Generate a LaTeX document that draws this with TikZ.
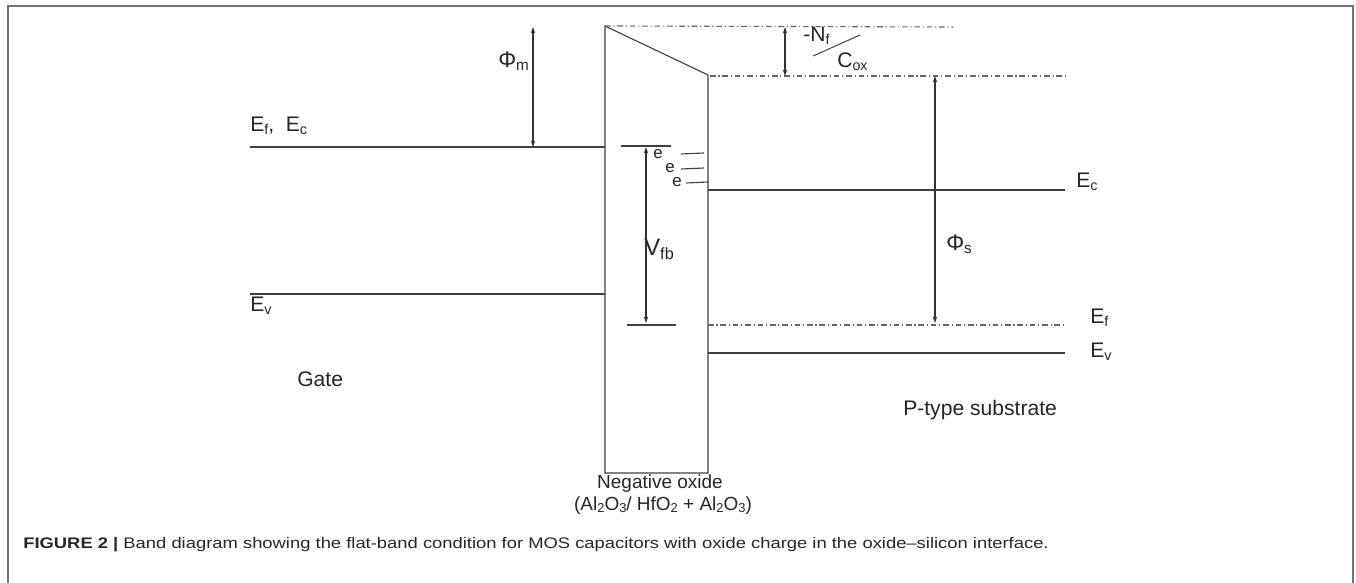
\documentclass[tikz,border=0pt]{standalone}
\usepackage{fontspec}
\usepackage{graphicx}
\setmainfont{Liberation Sans}
\newfontfamily\capfont[FakeStretch=1.2]{Liberation Sans}
\newcommand{\lowsub}[1]{\raisebox{-0.25ex}{\scalebox{0.68}{#1}}}
\usetikzlibrary{arrows.meta}
\tikzset{
    >={Stealth[length=4.5pt, width=3pt]}, % small arrowheads as in the sketch
    band/.style={line width=0.8pt, draw=black!75},
    fermi/.style={line width=0.8pt, draw=black!60,
        dash pattern=on 4pt off 2pt on 0.8pt off 2pt},
    dimarrow/.style={line width=0.8pt, draw=black!80, <->},
    textlabel/.style={inner sep=0pt, text=black!85, anchor=base west,
        font=\fontsize{15}{17}\selectfont},
    smalllabel/.style={textlabel, font=\fontsize{12}{13}\selectfont},
    oxlabel/.style={inner sep=0pt, text=black!85, anchor=base,
        font=\fontsize{13.5}{15}\selectfont}
}

\begin{document}
\begin{tikzpicture}[x=0.025cm, y=-0.025cm]
  \useasboundingbox (0,0) rectangle (1356,583);
  % outer frame, open at the bottom
  \draw[draw=black!55, line width=1.4pt] (8,583) -- (8,6) -- (1353,6) -- (1353,583);

  % oxide block with tilted top edge
  \coordinate (oxTL) at (605,26);
  \coordinate (oxTR) at (708,75);
  \coordinate (oxBL) at (605,473);
  \coordinate (oxBR) at (708,473);
  \draw[band] (oxTL) -- (oxTR) -- (oxBR) -- (oxBL) -- cycle;

  % gate levels
  \coordinate (gEc) at (250,147);
  \coordinate (gEv) at (250,294);
  \draw[band] (gEc) -- (gEc -| oxTL);
  \draw[band] (gEv) -- (gEv -| oxTL);

  % substrate levels
  \coordinate (sEc) at (1065,190);
  \coordinate (sEf) at (1065,325);
  \coordinate (sEv) at (1065,353);
  \draw[band]  (sEc -| oxTR) -- (sEc);
  \draw[fermi] (sEf -| oxTR) -- (sEf);
  \draw[band]  (sEv -| oxTR) -- (sEv);

  % vacuum level reference lines
  \coordinate (vacTop) at (953,27);
  \coordinate (vacSub) at (1065,76);
  \draw[fermi] (oxTL) -- (vacTop);
  \draw[fermi] (710,76) -- (vacSub);

  % work function and flat band arrows
  \coordinate (phimB) at (533,147);
  \coordinate (phimT) at (533,27);
  \draw[dimarrow] (phimB) -- (phimT);
  \coordinate (nfT) at (785,27);
  \coordinate (nfB) at (785,76);
  \draw[dimarrow] (nfT) -- (nfB);
  \coordinate (phisT) at (935,76);
  \coordinate (phisB) at (935,323);
  \draw[dimarrow] (phisT) -- (phisB);

  % Vfb bars and arrow inside the oxide
  \coordinate (vfbT) at (646,147);
  \coordinate (vfbB) at (646,323);
  \draw[band] (621,146) -- (671,146);
  \draw[band] (627,325) -- (676,325);
  \draw[dimarrow] (vfbT) -- (vfbB);

  % trapped electrons at the interface
  \draw[band] (681,154) -- (704,153);
  \draw[band] (681,169) -- (704,168);
  \draw[band] (686,183) -- (708,182);
  \node[smalllabel] (e1) at (653,159) {e};
  \node[smalllabel] (e2) at (665,173) {e};
  \node[smalllabel] (e3) at (672,187) {e};

  % fixed charge fraction
  \draw[band, line width=0.7pt] (813,56) -- (860,35);
  \node[textlabel] (nf) at (803,42) {-N\lowsub{f}};
  \node[textlabel] (cox) at (837,68) {C\lowsub{ox}};

  % labels
  \node[textlabel] (gEcLbl) at (250,132) {E\lowsub{f},\ \ E\lowsub{c}};
  \node[textlabel] (gEvLbl) at (250,312) {E\lowsub{v}};
  \node[textlabel, font=\fontsize{16}{18}\selectfont] (phim) at (498,68) {Φ\lowsub{m}};
  \node[textlabel, font=\fontsize{16}{18}\selectfont] (phis) at (946,251) {Φ\lowsub{s}};
  \node[textlabel, font=\fontsize{17}{19}\selectfont] (vfb) at (644,256) {V\lowsub{fb}};
  \node[textlabel] (sEcLbl) at (1076,188) {E\lowsub{c}};
  \node[textlabel] (sEfLbl) at (1090,324) {E\lowsub{f}};
  \node[textlabel] (sEvLbl) at (1090,358) {E\lowsub{v}};
  \node[textlabel] (gate) at (297,387) {Gate};
  \node[textlabel] (sub) at (903,415) {P-type substrate};
  \node[oxlabel] (ox1) at (660,488) {Negative oxide};
  \node[oxlabel] (ox2) at (663,510)
    {(Al\lowsub{2}O\lowsub{3}/ HfO\lowsub{2} + Al\lowsub{2}O\lowsub{3})};

  % caption
  \node[inner sep=0pt, anchor=base west, text=black!85,
        font=\capfont\fontsize{10.9}{13}\selectfont] (cap) at (23,548)
    {\textbf{FIGURE 2 |} Band diagram showing the flat-band condition for MOS capacitors with oxide charge in the oxide–silicon interface.};

\end{tikzpicture}
\end{document}
